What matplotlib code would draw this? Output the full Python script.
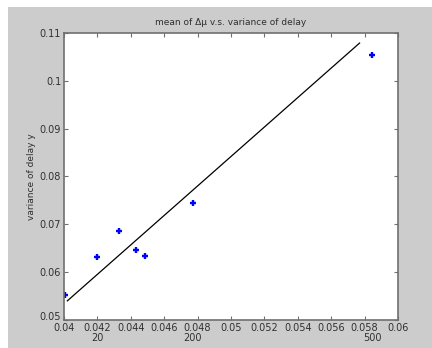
import numpy as np
import matplotlib.pyplot as plt
from matplotlib.patches import Rectangle
from matplotlib.transforms import blended_transform_factory, ScaledTranslation

# puntos medidos
mean_dmu = [0.04006, 0.04198, 0.04329, 0.04431, 0.04485, 0.04772, 0.05844]
var_delay = [0.0552, 0.0632, 0.0686, 0.0646, 0.0634, 0.0745, 0.1054]

# recta de ajuste
fit_x = [0.0402, 0.0577]
fit_y = [0.0540, 0.1079]

# etiquetas extra bajo el eje x
extra_x = [0.04198, 0.04772, 0.05844]
extra_lab = ['20', '200', '500']

xticks = np.arange(0.04, 0.0601, 0.002)
xtick_lab = ['0.04', '0.042', '0.044', '0.046', '0.048', '0.05', '0.052', '0.054', '0.056', '0.058', '0.06']
yticks = np.arange(0.05, 0.1101, 0.01)
ytick_lab = ['0.05', '0.06', '0.07', '0.08', '0.09', '0.1', '0.11']

fig = plt.figure(figsize=(4.32, 3.48), dpi=100)
fig.patch.set_facecolor('white')
fig.patches.append(Rectangle((8 / 432, 0), 1, (348 - 7) / 348, transform=fig.transFigure,
                             facecolor='#cccccc', edgecolor='none', zorder=-10))

ax = fig.add_axes([64 / 432, 28 / 348, 334 / 432, 287 / 348])
ax.set_facecolor('white')

ax.plot(fit_x, fit_y, 'k', linewidth=0.9)
ax.plot(mean_dmu, var_delay, '+', color='blue', markersize=5, markeredgewidth=1.7)

ax.set_xlim(0.04, 0.06)
ax.set_ylim(0.05, 0.11)
ax.set_xticks(xticks)
ax.set_xticklabels(xtick_lab)
ax.set_yticks(yticks)
ax.set_yticklabels(ytick_lab)
ax.tick_params(direction='in', length=3, width=0.8, color='#707070', labelsize=7,
               labelcolor='#303030', top=True, right=True, pad=2)
for s in ax.spines.values():
    s.set_color('#707070')
    s.set_linewidth(1.2)

# subir un poco el 0.05 para que no pise el 0.04
lab0 = ax.get_yticklabels()[0]
lab0.set_transform(lab0.get_transform() + ScaledTranslation(0, 3 / 72, fig.dpi_scale_trans))

ax.set_title('mean of \u0394\u03bc v.s. variance of delay', fontsize=6.5, color='#303030', pad=6)
ax.set_ylabel('variance of delay y', fontsize=6.5, color='#303030', labelpad=3)

tr = blended_transform_factory(ax.transData, ax.transAxes)
for xv, lab in zip(extra_x, extra_lab):
    ax.text(xv, -0.063, lab, transform=tr, ha='center', va='center', fontsize=7, color='#303030')

fig.savefig('out.png', dpi=100)
